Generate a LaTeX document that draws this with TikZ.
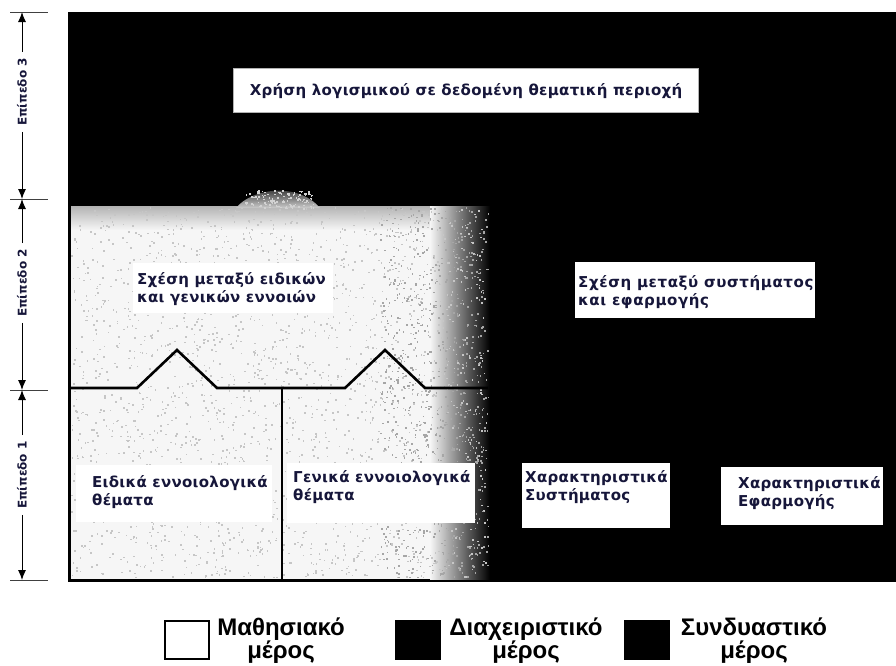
\documentclass[tikz,border=0pt]{standalone}
\usepackage{fontspec}
\setmainfont{DejaVu Sans}
\newfontfamily\labfont[LetterSpace=2]{DejaVu Sans}
\newfontfamily\labwide[LetterSpace=4]{DejaVu Sans}
\newfontfamily\legfont{Liberation Sans}
\usetikzlibrary{arrows.meta}
\definecolor{ink}{RGB}{22,22,58}
\begin{document}
\begin{tikzpicture}[x=1pt,y=-1pt,
  lab/.style={font=\labfont\fontsize{15}{18}\selectfont\bfseries, text=ink, align=left, inner sep=0pt, anchor=west},
  labw/.style={lab, font=\labwide\fontsize{15}{18}\selectfont\bfseries},
  lvl/.style={font=\fontsize{12}{13}\selectfont\bfseries, text=ink, rotate=90, inner sep=6pt},
  arr/.style={draw=black, line width=1pt, -{Latex[length=10pt,width=8pt]}},
  tickline/.style={draw=black!75, line width=1pt},
  wbox/.style={fill=white},
  legbox/.style={minimum width=44pt, minimum height=38pt, line width=2pt, draw=black, inner sep=0pt},
  legtxt/.style={font=\legfont\fontsize{24}{23}\selectfont\bfseries, align=center, inner sep=0pt},
  zig/.style={line width=2.6pt, line join=miter}]
\useasboundingbox (0,0) rectangle (896,665);
\fill[white] (0,0) rectangle (896,665);
% dark body
\fill[black] (68,12) rectangle (896,582);
% learning area
\fill[gray!7] (71,206) rectangle (488,579);
\shade[top color=gray!60, bottom color=gray!7] (71,206) rectangle (440,230);
\shade[left color=gray!7, right color=black] (430,206) rectangle (490,579);
\shade[top color=black, bottom color=gray!40] (236,208) .. controls (252,188) and (298,182) .. (320,208) -- cycle;
\pgfmathsetseed{7}
\foreach \i in {1,...,2200}{
  \pgfmathsetmacro\xx{71+415*rnd}
  \pgfmathsetmacro\yy{207+370*rnd}
  \fill[gray!45] (\xx,\yy) rectangle ++(1.6,1.6);
}
\foreach \i in {1,...,900}{
  \pgfmathsetmacro\xx{380+108*rnd}
  \pgfmathsetmacro\yy{207+370*rnd}
  \fill[gray!70] (\xx,\yy) rectangle ++(1.6,1.6);
}
\foreach \i in {1,...,120}{
  \pgfmathsetmacro\xx{245+70*rnd}
  \pgfmathsetmacro\yy{190+18*rnd}
  \fill[gray!35] (\xx,\yy) rectangle ++(1.6,1.6);
}
% white label boxes
\fill[wbox] (133,263) rectangle (333,313);
\fill[wbox] (76,465) rectangle (272,522);
\fill[wbox] (287,463) rectangle (475,523);
\fill[wbox] (575,262) rectangle (815,318);
\fill[wbox] (522,463) rectangle (670,528);
\fill[wbox] (721,467) rectangle (883,525);
\filldraw[fill=white, draw=gray!60, line width=0.6pt] (233,68) rectangle (698,112);
% zigzag boundary and divider
\draw[zig] (71,388) -- (137,388) -- (177,350) -- (217,388) -- (345,388) -- (385,350) -- (425,388) -- (488,388);
\draw[line width=2pt] (282,388) -- (282,579);
% labels
\node[lab, anchor=center] (top) at (466,91) {Χρήση λογισμικού σε δεδομένη θεματική περιοχή};
\node[lab] (sx1) at (137,289) {Σχέση μεταξύ ειδικών\\και γενικών εννοιών};
\node[labw] (sx2) at (578,292) {Σχέση μεταξύ συστήματος\\και εφαρμογής};
\node[lab] (eid) at (92,492) {Ειδικά εννοιολογικά\\θέματα};
\node[lab] (gen) at (293,487) {Γενικά εννοιολογικά\\θέματα};
\node[lab] (xs) at (525,487) {Χαρακτηριστικά\\Συστήματος};
\node[lab] (xe) at (738,493) {Χαρακτηριστικά\\Εφαρμογής};
% level axis
\coordinate (t0) at (22,12);
\coordinate (t1) at (22,199);
\coordinate (t2) at (22,390);
\coordinate (t3) at (22,580);
\foreach \t in {t0,t1,t2,t3}{
  \draw[tickline] ([xshift=-12pt]\t) -- ([xshift=26pt]\t);
}
\node[lvl] (lv3) at (22,92) {Επίπεδο 3};
\node[lvl] (lv2) at (22,283) {Επίπεδο 2};
\node[lvl] (lv1) at (22,475) {Επίπεδο 1};
\draw[arr] (lv3.east) -- (t0);
\draw[arr] (lv3.west) -- (t1);
\draw[arr] (lv2.east) -- (t1);
\draw[arr] (lv2.west) -- (t2);
\draw[arr] (lv1.east) -- (t2);
\draw[arr] (lv1.west) -- (t3);
% legend
\node[legbox, fill=white] (k1) at (186.5,640) {};
\node[legbox, fill=black] (k2) at (417.5,640) {};
\node[legbox, fill=black] (k3) at (646.5,640) {};
\node[legtxt] (m1) at (281,641) {Μαθησιακό\\μέρος};
\node[legtxt] (m2) at (526,641) {Διαχειριστικό\\μέρος};
\node[legtxt] (m3) at (754,641) {Συνδυαστικό\\μέρος};
\end{tikzpicture}
\end{document}
